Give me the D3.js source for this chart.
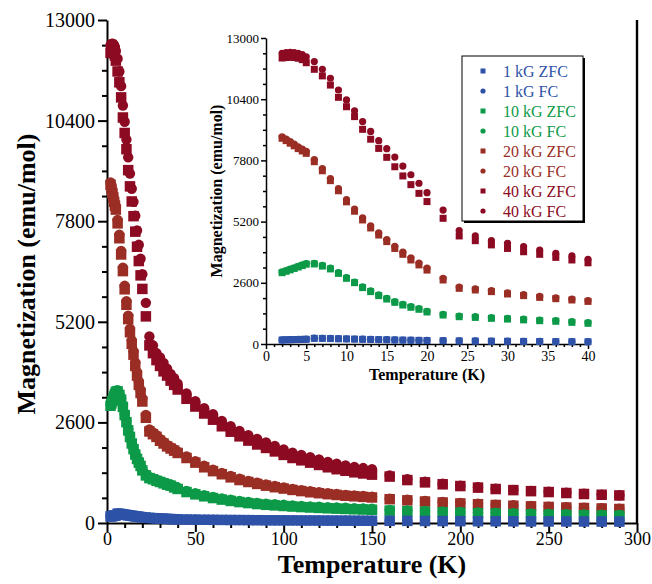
<!DOCTYPE html>
<html>
  <head>
    <title>Magnetization vs Temperature</title>
    <script src="https://d3js.org/d3.v7.min.js"></script>
    <style>
      body, html {
        margin: 0;
        padding: 0;
        background: #fff;
        overflow: hidden;
      }
      text {
        font-family: 'Liberation Serif', 'Times New Roman', serif;
      }
      .axis path, .axis line {
        stroke: #000;
      }
    </style>
  </head>
  <body>
    <svg id="chart" width="652" height="584"></svg>
    <script>
      // temperatures (K), shared by every run
      const temps = [2, 2.5, 3, 3.5, 4, 4.5, 5,
        6, 7, 8, 9, 10, 11, 12, 13, 14, 15, 16, 17, 18, 19, 20,
        22, 24, 26, 28, 30, 32, 34, 36, 38, 40,
        45, 50, 55, 60, 65, 70, 75, 80, 85, 90, 95, 100, 105, 110, 115, 120, 125, 130, 135, 140, 145, 150,
        160, 170, 180, 190, 200, 210, 220, 230, 240, 250, 260, 270, 280, 290];

      // magnetization (emu/mol)
      const zfc1 = [170, 175, 180, 185, 190, 195, 200,
        240, 238, 230, 222, 215, 208, 200, 193, 186, 180, 173, 166, 160, 154, 148,
        140, 132, 126, 120, 115, 110, 106, 102, 98, 95,
        90, 87, 84, 82, 80, 78, 76, 74, 72, 70, 69, 68, 67, 66, 65, 64, 63, 62, 61, 60, 59, 58,
        56, 54, 52, 50, 48, 46, 45, 44, 42, 41, 40, 39, 38, 37];
      const fc1 = [175, 180, 186, 191, 196, 201, 206,
        246, 243, 235, 227, 219, 212, 204, 197, 190, 183, 176, 169, 163, 157, 151,
        143, 135, 129, 123, 118, 113, 109, 105, 101, 97,
        92, 89, 86, 84, 82, 80, 78, 76, 74, 72, 71, 70, 69, 68, 67, 66, 65, 64, 63, 62, 61, 60,
        58, 56, 54, 52, 50, 48, 47, 46, 44, 43, 42, 41, 40, 39];
      const zfc10 = [3030, 3090, 3150, 3210, 3270, 3330, 3390,
        3400, 3310, 3190, 3000, 2790, 2605, 2395, 2225, 2055, 1910, 1770, 1655, 1560, 1475, 1360,
        1230, 1160, 1130, 1090, 1060, 1025, 990, 965, 920, 880,
        800, 740, 690, 645, 605, 570, 540, 515, 490, 470, 455, 440, 425, 412, 400, 390, 380, 371, 363, 355, 348, 342,
        320, 305, 290, 277, 265, 253, 243, 233, 224, 216, 208, 200, 193, 187];
      const fc10 = [3060, 3120, 3180, 3240, 3300, 3360, 3420,
        3430, 3340, 3220, 3030, 2820, 2635, 2425, 2255, 2085, 1940, 1800, 1685, 1590, 1505, 1390,
        1260, 1190, 1160, 1120, 1090, 1055, 1020, 995, 950, 910,
        830, 770, 720, 675, 635, 600, 570, 545, 520, 500, 485, 470, 455, 442, 430, 420, 410, 401, 393, 385, 378, 372,
        340, 325, 310, 297, 285, 273, 263, 253, 244, 236, 228, 220, 213, 207];
      const zfc20 = [8740, 8640, 8530, 8420, 8300, 8200, 8100,
        7745, 7360, 6940, 6510, 6040, 5640, 5270, 4930, 4630, 4350, 4060, 3810, 3570, 3360, 3140,
        2720, 2365, 2295, 2225, 2125, 2055, 1980, 1925, 1870, 1810,
        1680, 1560, 1440, 1340, 1260, 1180, 1110, 1060, 1010, 965, 925, 890, 855, 825, 795, 770, 745, 725, 705, 690, 675, 660,
        615, 585, 555, 530, 505, 485, 465, 447, 430, 415, 400, 388, 376, 362];
      const fc20 = [8800, 8700, 8600, 8490, 8380, 8280, 8180,
        7830, 7450, 7030, 6600, 6130, 5730, 5360, 5020, 4720, 4440, 4150, 3900, 3660, 3440, 3220,
        2790, 2420, 2340, 2270, 2170, 2095, 2020, 1960, 1905, 1845,
        1720, 1600, 1480, 1380, 1295, 1215, 1145, 1090, 1040, 995, 955, 918, 882, 850, 820, 795, 770, 748, 728, 712, 697, 682,
        630, 600, 568, 542, 517, 496, 476, 457, 440, 424, 409, 396, 384, 370];
      const zfc40 = [12150, 12170, 12180, 12170, 12140, 12080, 11950,
        11670, 11390, 11000, 10480, 10080, 9660, 9120, 8700, 8310, 7930, 7530, 7140, 6770, 6400, 6050,
        5340, 4590, 4390, 4210, 4060, 3920, 3810, 3680, 3570, 3450,
        3210, 3010, 2830, 2670, 2500, 2360, 2240, 2130, 2030, 1940, 1850, 1760, 1680, 1620, 1560, 1500, 1440, 1390, 1350, 1310, 1280, 1250,
        1200, 1110, 1050, 1000, 955, 915, 878, 850, 823, 800, 775, 750, 730, 712];
      const fc40 = [12350, 12380, 12390, 12380, 12350, 12300, 12200,
        12000, 11670, 11290, 10790, 10370, 9910, 9450, 9030, 8640, 8300, 7940, 7560, 7190, 6830, 6430,
        5690, 4820, 4590, 4390, 4280, 4135, 3990, 3850, 3740, 3600,
        3350, 3150, 2970, 2810, 2640, 2500, 2380, 2270, 2170, 2080, 1990, 1900, 1820, 1760, 1700, 1640, 1580, 1530, 1490, 1450, 1420, 1390,
        1230, 1130, 1070, 1015, 965, 925, 885, 857, 830, 808, 781, 755, 734, 718];

      const fieldNames = ["40 kG", "20 kG", "10 kG", "1 kG"];
      const fieldColors = ["#8c0a22", "#9a2e25", "#0d9a48", "#2d52a8"];
      const legendLabels = ["1 kG ZFC", "1 kG FC", "10 kG ZFC", "10 kG FC",
        "20 kG ZFC", "20 kG FC", "40 kG ZFC", "40 kG FC"];

      const mainXTicks = [0, 50, 100, 150, 200, 250, 300];
      const magTicks = [0, 2600, 5200, 7800, 10400, 13000];
      const insetXTicks = [0, 5, 10, 15, 20, 25, 30, 35, 40];

      const fields = [
        { zfc: zfc40, fc: fc40 },
        { zfc: zfc20, fc: fc20 },
        { zfc: zfc10, fc: fc10 },
        { zfc: zfc1, fc: fc1 }
      ].map((f, i) => ({ ...f, name: fieldNames[i], color: fieldColors[i] }));

      const svg = d3.select("#chart");

      // ---- main plot ----
      const x = d3.scaleLinear().domain([0, 300]).range([107, 637]);
      const y = d3.scaleLinear().domain([0, 13000]).range([523, 20]);

      // ---- inset ----
      const ix = d3.scaleLinear().domain([0, 40]).range([266, 588]);
      const iy = d3.scaleLinear().domain([0, 13000]).range([344, 38]);

      function drawAxes(sx, sy, opt) {
        const g = svg.append("g");
        const minorY = d3.range(0, 13001, 650).filter(v => v % 2600 !== 0);
        const minorX = d3.range(opt.xMin, sx.domain()[1] + 0.001, opt.xMinorStep)
          .filter(v => !opt.xTicks.includes(v));

        g.append("g").attr("class", "axis")
          .attr("transform", `translate(${sx(0)},0)`)
          .call(d3.axisLeft(sy).tickValues(minorY).tickSize(opt.minor).tickFormat(""))
          .call(a => a.select(".domain").remove());
        g.append("g").attr("class", "axis")
          .attr("transform", `translate(0,${sy(0)})`)
          .call(d3.axisBottom(sx).tickValues(minorX).tickSize(opt.minor).tickFormat(""))
          .call(a => a.select(".domain").remove());

        const ya = g.append("g").attr("class", "axis")
          .attr("transform", `translate(${sx(0)},0)`)
          .call(d3.axisLeft(sy).tickValues(magTicks).tickSize(opt.major)
            .tickSizeOuter(0).tickPadding(opt.yPad).tickFormat(d3.format("d")));
        ya.selectAll("text").style("font-size", opt.yFont + "px").attr("fill", "#000");

        const xa = g.append("g").attr("class", "axis")
          .attr("transform", `translate(0,${sy(0)})`)
          .call(d3.axisBottom(sx).tickValues(opt.xTicks).tickSize(opt.major)
            .tickSizeOuter(0).tickPadding(opt.xPad).tickFormat(d3.format("d")));
        xa.selectAll("text").style("font-size", opt.xFont + "px").attr("fill", "#000");

        g.selectAll(".axis line").attr("stroke-width", opt.lw);
        g.selectAll(".axis .domain").attr("stroke-width", opt.lw);
        return g;
      }

      function drawPoints(sx, sy, sq, rad, tMax) {
        const layer = svg.append("g");
        fields.forEach(f => {
          const pts = temps.map((t, i) => ({ t: t, zfc: f.zfc[i], fc: f.fc[i] }))
            .filter(d => d.t <= tMax);
          layer.append("g").selectAll("circle")
            .data(pts).join("circle")
            .attr("cx", d => sx(d.t))
            .attr("cy", d => sy(d.fc))
            .attr("r", rad)
            .attr("fill", f.color);
          layer.append("g").selectAll("rect")
            .data(pts).join("rect")
            .attr("x", d => sx(d.t) - sq / 2)
            .attr("y", d => sy(d.zfc) - sq / 2)
            .attr("width", sq)
            .attr("height", sq)
            .attr("fill", f.color);
        });
      }

      drawAxes(x, y, {
        xTicks: mainXTicks, xMin: 0, xMinorStep: 10,
        major: 9, minor: 5, lw: 2, yPad: 3, xPad: 0, yFont: 20, xFont: 18
      });

      // right frame line
      svg.append("line")
        .attr("x1", x(300)).attr("x2", x(300))
        .attr("y1", y(13000)).attr("y2", y(0))
        .attr("stroke", "#000").attr("stroke-width", 2.4);

      drawPoints(x, y, 10.5, 5.2, 300);

      svg.append("text")
        .attr("transform", `translate(35,274) rotate(-90)`)
        .attr("text-anchor", "middle")
        .style("font-size", "26px").style("font-weight", "bold")
        .text("Magnetization (emu/mol)");
      svg.append("text")
        .attr("x", 372).attr("y", 573)
        .attr("text-anchor", "middle")
        .style("font-size", "26px").style("font-weight", "bold")
        .text("Temperature (K)");

      // inset
      drawAxes(ix, iy, {
        xTicks: insetXTicks, xMin: 0, xMinorStep: 1,
        major: 5, minor: 3, lw: 1.5, yPad: 2, xPad: 2, yFont: 13, xFont: 14
      });
      drawPoints(ix, iy, 7, 3.6, 40);

      svg.append("text")
        .attr("transform", `translate(222,191) rotate(-90)`)
        .attr("text-anchor", "middle")
        .style("font-size", "16px").style("font-weight", "bold")
        .text("Magnetization (emu/mol)");
      svg.append("text")
        .attr("x", 427).attr("y", 380)
        .attr("text-anchor", "middle")
        .style("font-size", "16px").style("font-weight", "bold")
        .text("Temperature (K)");

      // legend
      const legend = svg.append("g");
      legend.append("rect")
        .attr("x", 464).attr("y", 58).attr("width", 121).attr("height", 165)
        .attr("fill", "#000");
      legend.append("rect")
        .attr("x", 462).attr("y", 56).attr("width", 121).attr("height", 165)
        .attr("fill", "#fff").attr("stroke", "#000").attr("stroke-width", 1);

      const legendColors = [3, 3, 2, 2, 1, 1, 0, 0].map(i => fieldColors[i]);
      const rows = legend.selectAll("g.row")
        .data(legendLabels).join("g")
        .attr("class", "row")
        .attr("transform", (d, i) => `translate(0,${71 + i * 20})`);
      rows.each(function (d, i) {
        const row = d3.select(this);
        if (i % 2 === 0) {
          row.append("rect").attr("x", 480.5).attr("y", -2.5)
            .attr("width", 5).attr("height", 5).attr("fill", legendColors[i]);
        } else {
          row.append("circle").attr("cx", 483).attr("cy", 0)
            .attr("r", 2.6).attr("fill", legendColors[i]);
        }
        row.append("text")
          .attr("x", 503).attr("y", 0).attr("dy", "0.35em")
          .style("font-size", "16px")
          .attr("fill", legendColors[i])
          .text(d);
      });
    </script>
  </body>
</html>
